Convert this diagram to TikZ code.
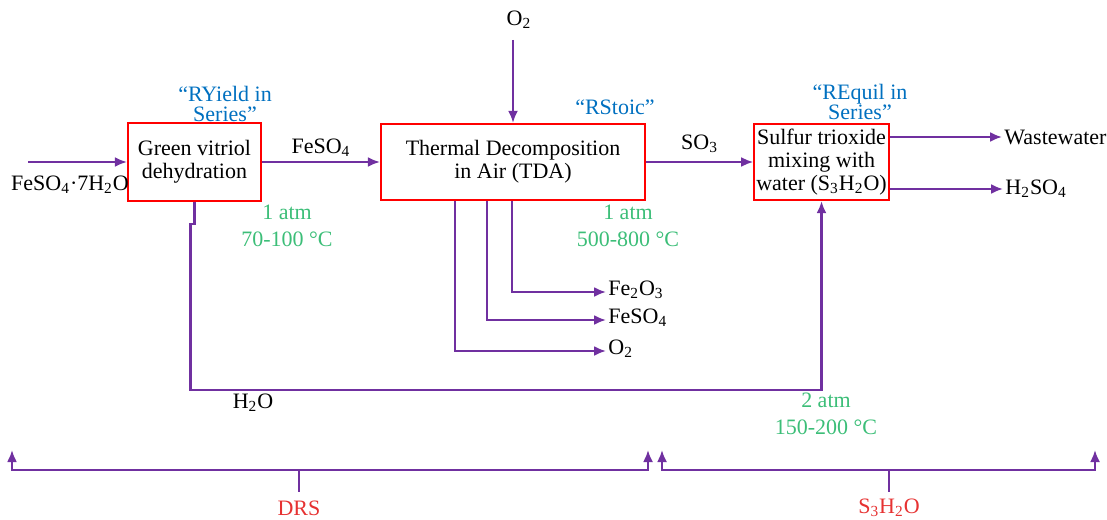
\documentclass[tikz,border=0pt]{standalone}
\usepackage{fontspec}
\setmainfont{Liberation Serif}
\usetikzlibrary{positioning, arrows.meta}
\definecolor{flowpurple}{RGB}{112,48,160}
\definecolor{boxred}{RGB}{255,0,0}
\definecolor{modelblue}{RGB}{0,112,192}
\definecolor{condgreen}{RGB}{60,190,120}
\definecolor{labred}{RGB}{230,50,50}

\begin{document}
\begin{tikzpicture}[
      x=0.5pt,y=-0.5pt,
      >={Latex[length=6pt,width=5pt]},
      unit/.style={draw=boxred,line width=1.1pt,align=center,inner sep=1pt,
        font=\fontsize{11}{11.5}\selectfont},
      lab/.style={font=\fontsize{11}{11.5}\selectfont,inner sep=1pt},
      model/.style={lab,text=modelblue,align=center,font=\fontsize{11}{10}\selectfont},
      cond/.style={lab,text=condgreen,align=center,font=\fontsize{11}{13.5}\selectfont},
      sect/.style={lab,text=labred},
      wire/.style={draw=flowpurple,line width=1.1pt},
      flow/.style={wire,->}
    ]
    \useasboundingbox (0,0) rectangle (1107,519);

    % unit blocks
    \node[unit,minimum width=66.5pt,minimum height=39pt] (gvd) at (194.5,162) {Green vitriol\\dehydration};
    \node[unit,minimum width=132pt,minimum height=38pt] (tda) at (513,162) {Thermal Decomposition\\in Air (TDA)};
    \node[unit,minimum width=65.5pt,minimum height=38pt] (s3h) at (821.5,162) {Sulfur trioxide\\mixing with\\water (S\textsubscript{3}H\textsubscript{2}O)};

    % model names (top of blocks)
    \node[model] at (225,104) {``RYield in\\Series''};
    \node[model] at (615,107) {``RStoic''};
    \node[model] at (860,102) {``REquil in\\Series''};

    % operating conditions
    \node[cond] at (287,226) {1 atm\\70-100 °C};
    \node[cond] at (628,226) {1 atm\\500-800 °C};
    \node[cond] at (826,414) {2 atm\\150-200 °C};

    % feed streams
    \coordinate (feed) at (28,162);
    \node[lab] (feedlab) at (70,185) {FeSO\textsubscript{4}·7H\textsubscript{2}O};
    \draw[flow] (feed) -- (gvd.west);
    \draw[flow] (gvd.east) -- node[lab,above=1pt] {FeSO\textsubscript{4}} (tda.west);
    \node[lab] (o2in) at (519,20) {O\textsubscript{2}};
    \coordinate (o2top) at (513,40);
    \draw[flow] (o2top) -- (tda.north);
    \draw[flow] (tda.east) -- node[lab,above=3pt] {SO\textsubscript{3}} (s3h.west);

    % products of S3H2O
    \node[lab,anchor=west] (ww) at (1002,137) {Wastewater};
    \node[lab,anchor=west] (acid) at (1003,189) {H\textsubscript{2}SO\textsubscript{4}};
    \draw[flow] (s3h.east |- ww.west) -- (ww.west);
    \draw[flow] (s3h.east |- acid.west) -- (acid.west);

    % products of TDA
    \node[lab,anchor=west] (feo) at (606,290) {Fe\textsubscript{2}O\textsubscript{3}};
    \node[lab,anchor=west] (fes) at (606,318) {FeSO\textsubscript{4}};
    \node[lab,anchor=west] (o2out) at (606,349) {O\textsubscript{2}};
    \draw[flow] ([xshift=-0.5pt]tda.south) |- ([yshift=-1pt]feo.west);
    \draw[flow] ([xshift=-13pt]tda.south) |- ([yshift=-1pt]fes.west);
    \draw[flow] ([xshift=-29pt]tda.south) |- ([yshift=-1pt]o2out.west);

    % water recycle
    \draw[flow] (gvd.south) -- ++(0,22) -- ++(-4,0) -- ++(0,166) -| (s3h.south);
    \node[lab] (h2o) at (253,403) {H\textsubscript{2}O};

    % section brackets
    \coordinate (drsl) at (12,450);
    \coordinate (drsr) at (648,450);
    \coordinate (drsm) at (299,470);
    \draw[flow,<->] (drsl) -- ++(0,20) -| (drsr);
    \draw[wire] (drsm) -- ++(0,22);
    \node[sect] (drs) at (299,508) {DRS};
    \coordinate (shl) at (662,450);
    \coordinate (shr) at (1095,450);
    \coordinate (shm) at (889,470);
    \draw[flow,<->] (shl) -- ++(0,20) -| (shr);
    \draw[wire] (shm) -- ++(0,22);
    \node[sect] (sh) at (889,508) {S\textsubscript{3}H\textsubscript{2}O};

    \end{tikzpicture}
\end{document}
